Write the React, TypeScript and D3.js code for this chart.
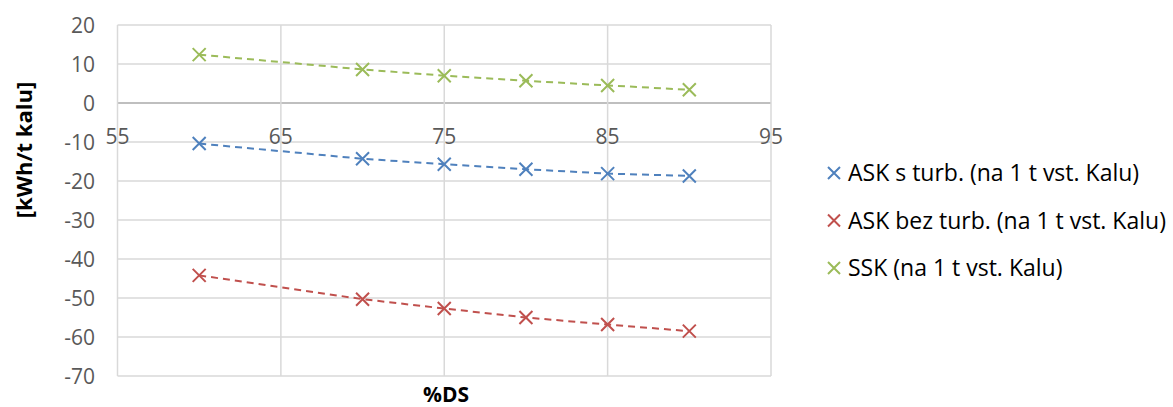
import React from "react";
import * as d3 from "d3";

const xValues = [60, 70, 75, 80, 85, 90];
const askSTurb = [-10.4, -14.3, -15.7, -17.0, -18.1, -18.7];
const askBezTurb = [-44.2, -50.3, -52.7, -55.0, -56.8, -58.5];
const ssk = [12.4, 8.6, 7.0, 5.7, 4.5, 3.4];
const seriesNames = [
  "ASK s turb. (na 1 t vst. Kalu)",
  "ASK bez turb. (na 1 t vst. Kalu)",
  "SSK (na 1 t vst. Kalu)",
];
const seriesColors = ["#4F81BD", "#C0504D", "#9BBB59"];
const xTicks = [55, 65, 75, 85, 95];
const yTicks = [20, 10, 0, -10, -20, -30, -40, -50, -60, -70];

const FONT = "'Open Sans', sans-serif";

export default function App() {
  const W = 1173, H = 407;
  const x = d3.scaleLinear().domain([55, 95]).range([117.5, 771]);
  const y = d3.scaleLinear().domain([-70, 20]).range([376, 25]);
  const series = [askSTurb, askBezTurb, ssk];
  const line = d3
    .line<number>()
    .x((_, i) => x(xValues[i]))
    .y((d) => y(d));
  const cross = (cx: number, cy: number, r: number, color: string, key: string) => (
    <path
      key={key}
      d={`M${cx - r},${cy - r}L${cx + r},${cy + r}M${cx - r},${cy + r}L${cx + r},${cy - r}`}
      stroke={color}
      strokeWidth={2}
      fill="none"
    />
  );
  return (
    <svg
      width={W}
      height={H}
      style={{ position: "absolute", left: 0, top: 0, background: "#fff" }}
      fontFamily={FONT}
    >
      {/* horizontal gridlines */}
      {yTicks.map((t) => (
        <line
          key={"h" + t}
          x1={x(55)}
          x2={x(95)}
          y1={y(t)}
          y2={y(t)}
          stroke={t === 0 ? "#bfbfbf" : "#d9d9d9"}
          strokeWidth={t === 0 ? 2 : 1.5}
        />
      ))}
      {/* vertical gridlines */}
      {xTicks.map((t) => (
        <line
          key={"v" + t}
          x1={x(t)}
          x2={x(t)}
          y1={y(20)}
          y2={y(-70)}
          stroke="#d9d9d9"
          strokeWidth={1.5}
        />
      ))}
      {/* y tick labels */}
      {yTicks.map((t) => (
        <text
          key={"yl" + t}
          x={95}
          y={y(t)}
          dy="0.36em"
          textAnchor="end"
          fontSize={21}
          fill="#595959"
        >
          {t}
        </text>
      ))}
      {/* x tick labels */}
      {xTicks.map((t) => (
        <text
          key={"xl" + t}
          x={x(t)}
          y={y(0) + 33}
          dy="0.36em"
          textAnchor="middle"
          fontSize={21}
          fill="#595959"
        >
          {t}
        </text>
      ))}
      {/* series */}
      {series.map((s, si) => (
        <g key={"s" + si}>
          <path
            d={line(s) || ""}
            fill="none"
            stroke={seriesColors[si]}
            strokeWidth={2}
            strokeDasharray="7,5"
          />
          {s.map((v, i) => cross(x(xValues[i]), y(v), 6.5, seriesColors[si], `m${si}-${i}`))}
        </g>
      ))}
      {/* axis titles */}
      <text
        transform={`translate(32,150) rotate(-90)`}
        textAnchor="middle"
        fontSize={22}
        fontWeight="bold"
        fill="#000"
      >
        [kWh/t kalu]
      </text>
      <text x={446} y={402} textAnchor="middle" fontSize={21} fontWeight="bold" fill="#000">
        %DS
      </text>
      {/* legend */}
      {seriesNames.map((n, i) => {
        const ly = 173 + i * 47.5;
        return (
          <g key={"lg" + i}>
            {cross(834, ly, 6, seriesColors[i], "lm" + i)}
            <text x={848} y={ly} dy="0.36em" fontSize={23} fill="#000">
              {n}
            </text>
          </g>
        );
      })}
    </svg>
  );
}
